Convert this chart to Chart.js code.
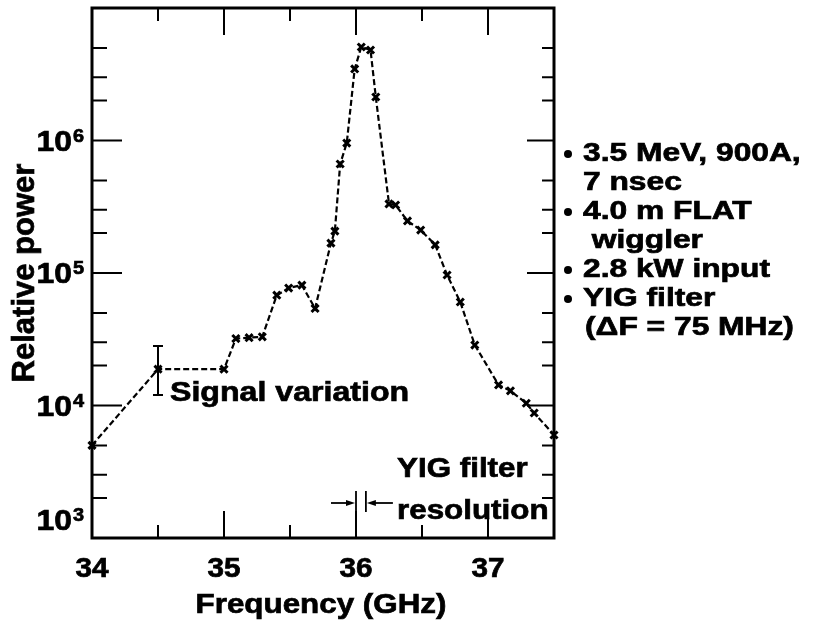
<!DOCTYPE html>
<html>
<head>
<meta charset="utf-8">
<script src="https://cdn.jsdelivr.net/npm/chart.js@4"></script>
<style>
  body { margin: 0; background: #fff; }
  #wrap { width: 817px; height: 626px; }
</style>
</head>
<body>
<div id="wrap"><canvas id="grafico" width="817" height="626"></canvas></div>
<script>
// frecuencia (GHz) y potencia relativa
const freq = [34.0, 34.5, 35.0, 35.09, 35.19, 35.29, 35.40, 35.49, 35.59, 35.69,
  35.81, 35.84, 35.88, 35.93, 35.99, 36.04, 36.11, 36.15, 36.25, 36.30,
  36.39, 36.49, 36.60, 36.69, 36.79, 36.90, 37.08, 37.17, 37.29, 37.35, 37.5];
const power = [5000, 18800, 18800, 32000, 32500, 33000, 68000, 77000, 81000, 54000,
  168000, 207000, 665000, 957000, 3470000, 5080000, 4820000, 2130000, 332000, 326000,
  247000, 211000, 163000, 96600, 60400, 28600, 14300, 12900, 10400, 8780, 5990];

// barra de variacion de senal
const errFreq = [34.5];
const errLow = [12000];
const errHigh = [28100];

// ticks
const xTicks = [34, 34.5, 35, 35.5, 36, 36.5, 37];
const xLabels = [34, 35, 36, 37];
const yDecades = [1e3, 1e4, 1e5, 1e6, 1e7];
const yMinor = [2, 3, 5];

// resolucion del filtro YIG (75 MHz)
const yigRes = [36.0, 36.075];

const notas = [
  { t: "3.5 MeV, 900A,", bullet: true },
  { t: "7 nsec", bullet: false },
  { t: "4.0 m FLAT", bullet: true },
  { t: " wiggler", bullet: false },
  { t: "2.8 kW input", bullet: true },
  { t: "YIG filter", bullet: true },
  { t: "(\u0394F = 75 MHz)", bullet: false }
];

const FUENTE = '"Liberation Sans", Arial, Helvetica, sans-serif';

function texto(ctx, s, x, y, size, sx, align) {
  ctx.save();
  ctx.font = "bold " + size + "px " + FUENTE;
  ctx.textBaseline = "alphabetic";
  ctx.textAlign = "left";
  const w = ctx.measureText(s).width * sx;
  let x0 = x;
  if (align === "center") x0 = x - w / 2;
  if (align === "right") x0 = x - w;
  ctx.translate(x0, y);
  ctx.scale(sx, 1);
  ctx.fillStyle = "#000";
  ctx.strokeStyle = "#000";
  ctx.lineWidth = 0.7;
  ctx.fillText(s, 0, 0);
  ctx.strokeText(s, 0, 0);
  ctx.restore();
}

function flecha(ctx, x1, x2, y) {
  // linea de x1 a x2 con punta en x2
  const d = x2 > x1 ? 1 : -1;
  ctx.beginPath();
  ctx.moveTo(x1, y);
  ctx.lineTo(x2 - d * 6, y);
  ctx.stroke();
  ctx.beginPath();
  ctx.moveTo(x2, y);
  ctx.lineTo(x2 - d * 9, y - 3);
  ctx.lineTo(x2 - d * 9, y + 3);
  ctx.closePath();
  ctx.fill();
}

const ejesPlugin = {
  id: "ejes",
  afterDatasetsDraw(chart) {
    const ctx = chart.ctx;
    const xs = chart.scales.x;
    const ys = chart.scales.y;
    // barra de error
    ctx.save();
    ctx.strokeStyle = "#000";
    ctx.lineWidth = 2;
    for (let i = 0; i < errFreq.length; i++) {
      const px = xs.getPixelForValue(errFreq[i]);
      const y1 = ys.getPixelForValue(errHigh[i]);
      const y2 = ys.getPixelForValue(errLow[i]);
      ctx.beginPath();
      ctx.moveTo(px, y1); ctx.lineTo(px, y2);
      ctx.moveTo(px - 5, y1); ctx.lineTo(px + 5, y1);
      ctx.moveTo(px - 5, y2); ctx.lineTo(px + 5, y2);
      ctx.stroke();
    }
    ctx.restore();
  },
  afterDraw(chart) {
    const ctx = chart.ctx;
    const a = chart.chartArea;
    const xs = chart.scales.x;
    const ys = chart.scales.y;
    ctx.save();
    ctx.strokeStyle = "#000";
    ctx.fillStyle = "#000";

    // marco
    ctx.lineWidth = 3;
    ctx.strokeRect(a.left, a.top, a.right - a.left, a.bottom - a.top);

    // ticks x (abajo y arriba, hacia dentro)
    ctx.lineWidth = 2;
    xTicks.forEach(v => {
      const px = xs.getPixelForValue(v);
      if (px <= a.left + 2) return;
      const L = Number.isInteger(v) ? 27 : 13;
      ctx.beginPath();
      ctx.moveTo(px, a.bottom); ctx.lineTo(px, a.bottom - L);
      ctx.moveTo(px, a.top); ctx.lineTo(px, a.top + L);
      ctx.stroke();
    });

    // ticks y
    yDecades.forEach(d => {
      const py = ys.getPixelForValue(d);
      if (py < a.bottom - 2 && py > a.top + 2) {
        ctx.beginPath();
        ctx.moveTo(a.left, py); ctx.lineTo(a.left + 30, py);
        ctx.moveTo(a.right, py); ctx.lineTo(a.right - 27, py);
        ctx.stroke();
      }
      yMinor.forEach(m => {
        const v = d * m;
        if (v >= yDecades[yDecades.length - 1]) return;
        const pm = ys.getPixelForValue(v);
        ctx.beginPath();
        ctx.moveTo(a.left, pm); ctx.lineTo(a.left + 15, pm);
        ctx.moveTo(a.right, pm); ctx.lineTo(a.right - 12, pm);
        ctx.stroke();
      });
    });

    // etiquetas x
    xLabels.forEach(v => {
      texto(ctx, String(v), xs.getPixelForValue(v), a.bottom + 39, 28, 1.06, "center");
    });
    texto(ctx, "Frequency (GHz)", (a.left + a.right) / 2 - 2, a.bottom + 75, 28, 1.12, "center");

    // etiquetas y: 10 con exponente
    yDecades.slice(0, 4).forEach(d => {
      const py = ys.getPixelForValue(d);
      const base = py >= a.bottom - 2 ? py - 8 : py + 10;
      const exp = String(Math.round(Math.log10(d)));
      texto(ctx, "10", a.left - 20, base, 29, 1.1, "right");
      texto(ctx, exp, a.left - 19, base - 9, 19, 1.05, "left");
    });

    // titulo y rotado
    ctx.save();
    ctx.translate(34, (a.top + a.bottom) / 2);
    ctx.rotate(-Math.PI / 2);
    ctx.font = "bold 31px " + FUENTE;
    ctx.textAlign = "center";
    ctx.textBaseline = "alphabetic";
    ctx.lineWidth = 0.7;
    ctx.fillText("Relative power", 0, 0);
    ctx.strokeText("Relative power", 0, 0);
    ctx.restore();

    // anotaciones
    texto(ctx, "Signal variation", 170, 401, 27, 1.19, "left");
    texto(ctx, "YIG filter", 397, 477, 28, 1.12, "left");
    texto(ctx, "resolution", 397, 519, 28, 1.12, "left");

    // flechas de resolucion
    const r1 = xs.getPixelForValue(yigRes[0]);
    const r2 = xs.getPixelForValue(yigRes[1]);
    const ya = 503;
    ctx.lineWidth = 1.8;
    ctx.beginPath();
    ctx.moveTo(r1, ya - 12); ctx.lineTo(r1, a.bottom - 20);
    ctx.moveTo(r2, ya - 12); ctx.lineTo(r2, ya + 9);
    ctx.stroke();
    flecha(ctx, r1 - 25, r1 - 1, ya);
    flecha(ctx, r2 + 27, r2 + 1, ya);

    // notas a la derecha
    let yb = 161;
    notas.forEach(n => {
      if (n.bullet) {
        ctx.beginPath();
        ctx.arc(568, yb - 7, 4, 0, Math.PI * 2);
        ctx.fill();
      }
      const x0 = n.t.startsWith("(") ? 585 : 583;
      texto(ctx, n.t, x0, yb, 25, 1.27, "left");
      yb += 29;
    });

    ctx.restore();
  }
};

const ctx = document.getElementById("grafico");
const puntos = freq.map((f, i) => ({ x: f, y: power[i] }));

const miGrafico = new Chart(ctx, {
  type: "line",
  data: {
    datasets: [{
      label: "Relative power",
      data: puntos,
      borderColor: "#000",
      backgroundColor: "#000",
      borderWidth: 2.2,
      borderDash: [6, 3],
      tension: 0,
      pointStyle: "crossRot",
      pointRadius: 5,
      pointBorderWidth: 3,
      clip: false
    }]
  },
  options: {
    responsive: false,
    animation: false,
    devicePixelRatio: 1,
    layout: { padding: { left: 92, top: 8, right: 263, bottom: 88 } },
    plugins: { legend: { display: false }, tooltip: { enabled: false } },
    scales: {
      x: { type: "linear", min: 34, max: 37.5, display: false },
      y: { type: "logarithmic", min: 1000, max: 1e7, display: false }
    }
  },
  plugins: [ejesPlugin]
});
</script>
</body>
</html>
